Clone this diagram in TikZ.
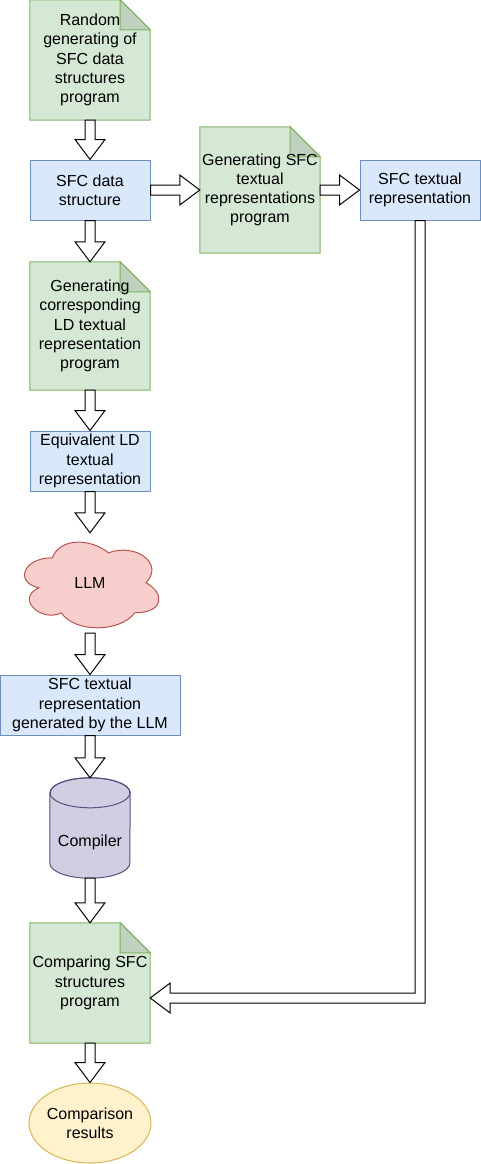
\documentclass[tikz,border=0pt]{standalone}
\usepackage{fontspec}
\setmainfont{Liberation Sans}
\usetikzlibrary{calc,backgrounds,shapes.geometric}
\definecolor{gfill}{HTML}{D5E8D4}
\definecolor{gline}{HTML}{82B366}
\definecolor{gfold}{RGB}{192,209,191}
\definecolor{bfill}{HTML}{DAE8FC}
\definecolor{bline}{HTML}{6C8EBF}
\definecolor{rfill}{HTML}{F8CECC}
\definecolor{rline}{HTML}{B85450}
\definecolor{pfill}{HTML}{D0CEE2}
\definecolor{pline}{HTML}{56517E}
\definecolor{yfill}{HTML}{FFF2CC}
\definecolor{yline}{HTML}{D6B656}
\tikzset{
  lbl/.style={inner sep=0pt, align=center, font=\fontsize{16}{19.2}\selectfont},
  notebox/.style={lbl, minimum width=120pt},
  bluebox/.style={lbl, draw=bline, fill=bfill, line width=1pt, minimum height=60pt},
  notefill/.style={draw=gline, fill=gfill, line width=1pt},
  foldfill/.style={draw=gline, fill=gfold, line width=1pt, line join=miter},
  barrow/.style={draw=black, fill=white, line width=1pt, line join=miter},
}
\newcommand\bkdown[2]{%
  \draw[barrow] let \p1=(#1), \p2=(#2) in
   (\x1-5pt,\y1) -- (\x1-5pt,\y2+20pt) -- (\x1-15pt,\y2+20pt) -- (\x1,\y2)
   -- (\x1+15pt,\y2+20pt) -- (\x1+5pt,\y2+20pt) -- (\x1+5pt,\y1) -- cycle;}
\newcommand\bkright[2]{%
  \draw[barrow] let \p1=(#1), \p2=(#2) in
   (\x1,\y1+5pt) -- (\x2-20pt,\y1+5pt) -- (\x2-20pt,\y1+15pt) -- (\x2,\y1)
   -- (\x2-20pt,\y1-15pt) -- (\x2-20pt,\y1-5pt) -- (\x1,\y1-5pt) -- cycle;}
\newcommand\notedraw[1]{%
  \draw[notefill] (#1.north west) -- ([xshift=-30pt]#1.north east) -- ([yshift=-30pt]#1.north east)
     -- (#1.south east) -- (#1.south west) -- cycle;
  \draw[foldfill] ([xshift=-30pt]#1.north east) -- ([xshift=-30pt,yshift=-30pt]#1.north east)
     -- ([yshift=-30pt]#1.north east) -- cycle;}
\begin{document}
\begin{tikzpicture}[x=1pt,y=-1pt]
\useasboundingbox (0,0) rectangle (481,1164);

% nodes
\node[notebox, minimum height=120pt] (rnd) at (90,60) {Random\\generating of\\SFC data\\structures\\program};
\node[bluebox, minimum width=120pt] (ds) at (90,190) {SFC data\\structure};
\node[notebox, minimum height=126pt] (gen2) at (260,190) {Generating SFC\\textual\\representations\\program};
\node[bluebox, minimum width=120pt] (srep) at (420,190) {SFC textual\\representation};
\node[notebox, minimum height=128pt] (gen3) at (90,326) {Generating\\corresponding\\LD textual\\representation\\program};
\node[bluebox, minimum width=120pt] (eq) at (90,461) {Equivalent LD\\textual\\representation};
\node[lbl, minimum width=150pt, minimum height=100pt] (llm) at (90,583) {LLM};
\node[bluebox, minimum width=180pt] (srl) at (90,705) {SFC textual\\representation\\generated by the LLM};
\node[lbl, minimum width=80pt, minimum height=100pt] (comp) at (90,828) {};
\node[lbl] (compt) at (90,842) {Compiler};
\node[notebox, minimum height=120pt] (cmp) at (90,983) {Comparing SFC\\structures\\program};
\node[lbl, ellipse, draw=yline, fill=yfill, line width=1pt, minimum width=120pt, minimum height=80pt] (res) at (90,1123) {Comparison\\results};
\coordinate (cmpin) at ([yshift=-15pt]cmp.east);

% backgrounds
\begin{scope}[on background layer]
  \notedraw{rnd}
  \notedraw{gen2}
  \notedraw{gen3}
  \notedraw{cmp}
  \begin{scope}[shift={(llm.north west)}, x=150pt, y=-100pt]
    \draw[draw=rline, fill=rfill, line width=1pt]
      (0.25,0.25) .. controls (0.05,0.25) and (0,0.5) .. (0.16,0.55)
      .. controls (0,0.66) and (0.18,0.9) .. (0.31,0.8)
      .. controls (0.4,1) and (0.7,1) .. (0.8,0.8)
      .. controls (1,0.8) and (1,0.6) .. (0.875,0.5)
      .. controls (1,0.3) and (0.8,0.1) .. (0.625,0.2)
      .. controls (0.5,0.05) and (0.3,0.05) .. (0.25,0.25) -- cycle;
  \end{scope}
  \draw[draw=pline, fill=pfill, line width=1pt]
    ([yshift=-15pt]comp.north west) -- ([yshift=15pt]comp.south west)
    arc[start angle=180, end angle=360, x radius=40pt, y radius=15pt]
    -- ([yshift=-15pt]comp.north east)
    arc[start angle=0, end angle=180, x radius=40pt, y radius=15pt] -- cycle;
  \draw[draw=pline, line width=1pt] ([yshift=-15pt]comp.north) ellipse[x radius=40pt, y radius=15pt];
\end{scope}

% connectors
\bkdown{rnd.south}{ds.north}
\bkdown{ds.south}{gen3.north}
\bkdown{gen3.south}{eq.north}
\bkdown{eq.south}{llm.north}
\bkdown{llm.south}{srl.north}
\bkdown{srl.south}{comp.north}
\bkdown{comp.south}{cmp.north}
\bkdown{cmp.south}{res.north}
\bkright{ds.east}{gen2.west}
\bkright{gen2.east}{srep.west}
\draw[barrow] let \p1=(srep.south), \p2=(cmpin) in
  (\x1-5pt,\y1) -- (\x1-5pt,\y2+5pt) -- (\x2+20pt,\y2+5pt) -- (\x2+20pt,\y2+15pt)
  -- (\x2,\y2) -- (\x2+20pt,\y2-15pt) -- (\x2+20pt,\y2-5pt) -- (\x1+5pt,\y2-5pt)
  -- (\x1+5pt,\y1) -- cycle;
\end{tikzpicture}
\end{document}
